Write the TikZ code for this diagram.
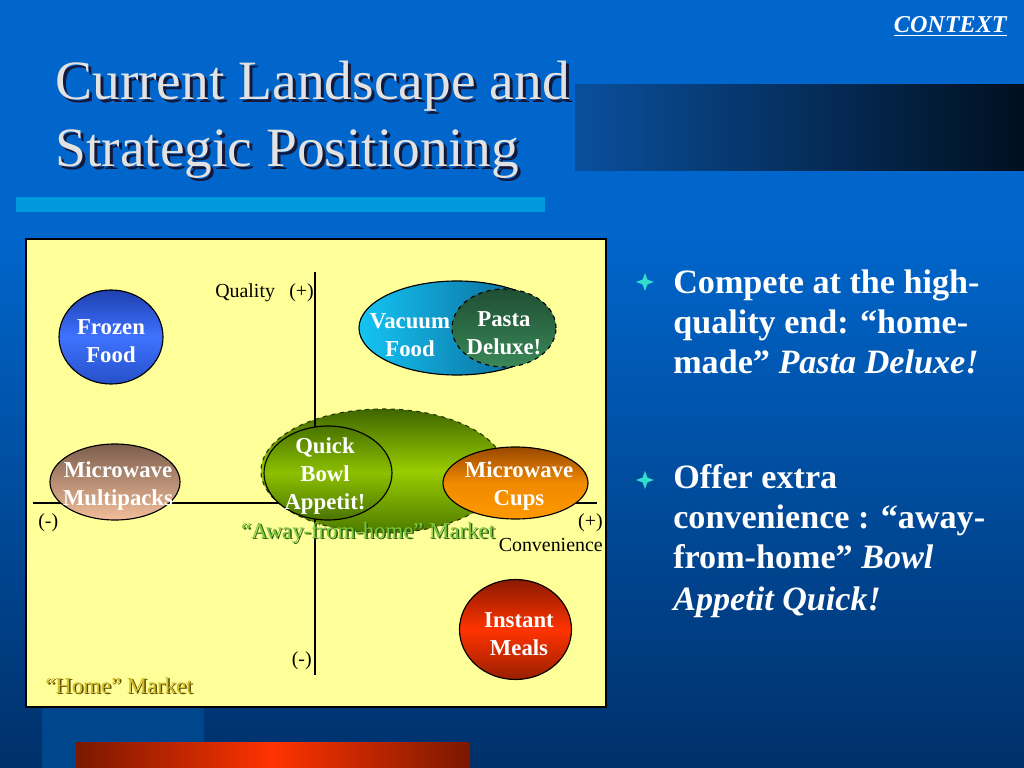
\documentclass[tikz,border=0pt]{standalone}
\usepackage{fontspec}
\setmainfont{Liberation Serif}
\usetikzlibrary{shapes.geometric}
\definecolor{bgtop}{HTML}{0066CC}
\definecolor{bgbot}{HTML}{00306A}
\definecolor{lightrect}{HTML}{00468C}
\definecolor{barblue}{HTML}{0099DD}
\definecolor{darkbarL}{HTML}{0A4F9C}
\definecolor{darkbarR}{HTML}{000F1F}
\definecolor{titlecol}{HTML}{E2E2E2}
\definecolor{titleshadow}{HTML}{14183A}
\definecolor{panel}{HTML}{FFFF99}
\definecolor{frzA}{HTML}{1E40B0}
\definecolor{frzB}{HTML}{3F72FF}
\definecolor{frzC}{HTML}{2650C8}
\definecolor{mpA}{HTML}{7C5E4E}
\definecolor{mpB}{HTML}{F2BE9A}
\definecolor{awA}{HTML}{3F6600}
\definecolor{awB}{HTML}{99CC00}
\definecolor{awC}{HTML}{4E7A00}
\definecolor{awline}{HTML}{2A3A00}
\definecolor{qbA}{HTML}{4A7400}
\definecolor{qbB}{HTML}{8CC000}
\definecolor{qbC}{HTML}{4A7400}
\definecolor{cpA}{HTML}{9A4800}
\definecolor{cpB}{HTML}{F08A00}
\definecolor{cpC}{HTML}{FF9900}
\definecolor{vcA}{HTML}{14C4F4}
\definecolor{vcB}{HTML}{0A5A88}
\definecolor{paA}{HTML}{1F4F33}
\definecolor{paB}{HTML}{3A8858}
\definecolor{imA}{HTML}{8B1A00}
\definecolor{imB}{HTML}{FF3300}
\definecolor{imC}{HTML}{991F00}
\definecolor{redA}{HTML}{7A1800}
\definecolor{redB}{HTML}{FF3300}
\definecolor{homefill}{HTML}{D2BE28}
\definecolor{homeshadow}{HTML}{5A4A08}
\definecolor{awayfill}{HTML}{7CC83C}
\definecolor{awayshadow}{HTML}{2E5A14}
\definecolor{starcyan}{HTML}{33DDCC}
\def\pxu{0.703125pt}
\tikzset{
  blob/.style={ellipse, draw=black, line width=0.8pt, inner sep=0pt},
  lbl/.style={text=white, font=\bfseries\fontsize{16}{19.5}\selectfont, align=center, inner sep=0pt},
  axl/.style={font=\fontsize{14}{16}\selectfont, text=black, inner sep=0pt},
  ttl/.style={font=\fontsize{39}{46}\selectfont, anchor=base west, inner sep=0pt},
  bul/.style={text=white, font=\bfseries\fontsize{24}{28}\selectfont, anchor=base west, inner sep=0pt},
  mkt/.style={font=\fontsize{16}{19}\selectfont, inner sep=0pt}
}
\newcommand\bulstar[2]{%
  \coordinate (#1) at #2;
  \fill[starcyan, shift={#2}] (0,-9) -- (2.4,-2.4) -- (9,0) -- (2.4,2.4) -- (0,9)
    -- (-2.4,2.4) -- (-9,0) -- (-2.4,-2.4) -- cycle;}
\begin{document}
\begin{tikzpicture}[x=0.703125pt,y=-0.703125pt]
\path[use as bounding box] (0,0) rectangle (1024,768);
% background
\fill[bgtop] (0,0) rectangle (1024,231);
\shade[top color=bgtop, bottom color=bgbot] (0,230) rectangle (1024,768);
\fill[lightrect] (42,700) rectangle (204,768);
\shade[left color=darkbarL, right color=darkbarR] (575,85) rectangle (1024,171);
\fill[barblue] (16,197) rectangle (545,212);
\shade[left color=redA, right color=redA, middle color=redB] (76,742) rectangle (470,768);
% context
\node[text=white, font=\bfseries\itshape\fontsize{17}{19}\selectfont, anchor=base east, inner sep=0pt] (ctx) at (1007,33) {\underline{CONTEXT}};
% title
\node[ttl, text=titleshadow] (t1s) at (58,103) {Current Landscape and};
\node[ttl, text=titleshadow] (t2s) at (58,170) {Strategic Positioning};
\node[ttl, text=titlecol] (t1) at (55,100) {Current Landscape and};
\node[ttl, text=titlecol] (t2) at (55,167) {Strategic Positioning};
% panel
\draw[line width=0.9pt, fill=panel] (26,239) rectangle (606,707);
\coordinate (vtop) at (315,272);
\coordinate (vbot) at (315,675);
\coordinate (hleft) at (33,503);
\coordinate (hright) at (597,503);
\draw[line width=0.8pt] (hleft) -- (hright);
% ellipses
\node[blob, top color=frzA, bottom color=frzC, middle color=frzB, minimum width=104*\pxu, minimum height=94*\pxu] (frozen) at (111,337) {};
\node[blob, top color=mpA, bottom color=mpB, minimum width=130*\pxu, minimum height=76*\pxu] (multi) at (115,482) {};
\node[blob, draw=awline, dashed, top color=awA, bottom color=awC, middle color=awB, minimum width=244*\pxu, minimum height=124*\pxu] (away) at (383,471) {};
\draw[line width=0.8pt] (vtop) -- (vbot);
\node[blob, top color=qbA, bottom color=qbC, middle color=qbB, minimum width=128*\pxu, minimum height=94*\pxu] (quick) at (328,473) {};
\node[blob, top color=cpA, bottom color=cpC, middle color=cpB, minimum width=145*\pxu, minimum height=72*\pxu] (cups) at (515.5,483) {};
\node[blob, left color=vcA, right color=vcB, minimum width=196*\pxu, minimum height=94*\pxu] (vacuum) at (457,328) {};
\node[blob, dashed, top color=paA, bottom color=paB, minimum width=104*\pxu, minimum height=78*\pxu] (pasta) at (504,328) {};
\node[blob, top color=imA, bottom color=imC, middle color=imB, minimum width=112*\pxu, minimum height=100*\pxu] (instant) at (515.5,629.5) {};
% ellipse labels
\node[lbl] (frozen-t) at (111,341) {Frozen\\Food};
\node[lbl] (multi-t) at (118,486) {Microwave\\Multipacks};
\node[lbl] (quick-t) at (325,476) {Quick\\Bowl\\Appetit!};
\node[lbl] (cups-t) at (519,486) {Microwave\\Cups};
\node[lbl] (vacuum-t) at (410,335) {Vacuum\\Food};
\node[lbl] (pasta-t) at (504,333) {Pasta\\Deluxe!};
\node[lbl] (instant-t) at (519,634) {Instant\\Meals};
% axis labels
\node[axl, anchor=base west] (qual) at (215,298) {Quality};
\node[axl, anchor=base west] (qplus) at (289,298) {(+)};
\node[axl, anchor=base west] (lminus) at (38,527) {(-)};
\node[axl, anchor=base east] (rplus) at (603,527) {(+)};
\node[axl, anchor=base east] (conv) at (603,551) {Convenience};
\node[axl, anchor=base east] (bminus) at (312,665) {(-)};
% market labels
\node[mkt, text=awayshadow, anchor=base] (away-s) at (369.5,539.5) {“Away-from-home” Market};
\node[mkt, text=awayfill, anchor=base] (away-t) at (368,538) {“Away-from-home” Market};
\node[mkt, text=homeshadow, anchor=base west] (home-s) at (46.5,694.5) {“Home” Market};
\node[mkt, text=homefill, anchor=base west] (home-t) at (45,693) {“Home” Market};
% bullets
\bulstar{s1}{(645,282)}
\bulstar{s2}{(645,480)}
\node[bul] (b1a) at (673,293) {Compete at the high-};
\node[bul] (b1b) at (673,333) {quality end: “home-};
\node[bul] (b1c) at (673,373) {made” \textit{Pasta Deluxe!}};
\node[bul] (b2a) at (673,488) {Offer extra};
\node[bul] (b2b) at (673,528) {convenience : “away-};
\node[bul] (b2c) at (673,568) {from-home” \textit{Bowl}};
\node[bul] (b2d) at (673,610) {\textit{Appetit Quick!}};
\end{tikzpicture}
\end{document}
